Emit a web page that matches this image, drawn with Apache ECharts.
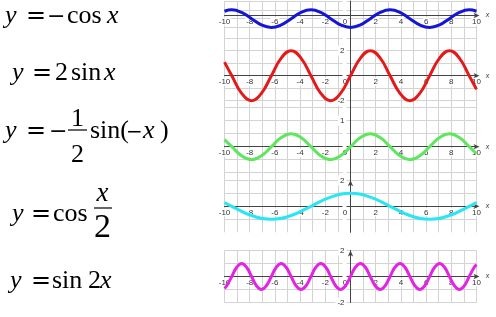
<!DOCTYPE html>
<html>
<head>
<meta charset="utf-8">
<script src="https://cdn.jsdelivr.net/npm/echarts@6/dist/echarts.min.js"></script>
<style>html,body{margin:0;padding:0;background:#fff}#c{width:496px;height:317px}</style>
</head>
<body>
<div id="c"></div>
<script>
// ---- data ----
const xTickLabels = [-10, -8, -6, -4, -2, 0, 2, 4, 6, 8, 10];
const blueYLabels = [];
const redYLabels = [2, -2];
const greenYLabels = [1];
const cyanYLabels = [2];
const magentaYLabels = [2, -2];

// y = -cos x
const bluePts = [[-10,0.84],[-9.42,1],[-8.64,0.71],[-7.85,0],[-7.07,-0.71],[-6.28,-1],[-5.50,-0.71],[-4.71,0],[-3.93,0.71],[-3.14,1],[-2.36,0.71],[-1.57,0],[-0.79,-0.71],[0,-1],[0.79,-0.71],[1.57,0],[2.36,0.71],[3.14,1],[3.93,0.71],[4.71,0],[5.50,-0.71],[6.28,-1],[7.07,-0.71],[7.85,0],[8.64,0.71],[9.42,1],[10,0.84]];
// y = 2 sin x
const redPts = [[-10,1.09],[-9.42,0],[-8.64,-1.41],[-7.85,-2],[-7.07,-1.41],[-6.28,0],[-5.50,1.41],[-4.71,2],[-3.93,1.41],[-3.14,0],[-2.36,-1.41],[-1.57,-2],[-0.79,-1.41],[0,0],[0.79,1.41],[1.57,2],[2.36,1.41],[3.14,0],[3.93,-1.41],[4.71,-2],[5.50,-1.41],[6.28,0],[7.07,1.41],[7.85,2],[8.64,1.41],[9.42,0],[10,-1.09]];
// y = -1/2 sin(-x)
const greenPts = [[-10,0.27],[-9.42,0],[-8.64,-0.35],[-7.85,-0.5],[-7.07,-0.35],[-6.28,0],[-5.50,0.35],[-4.71,0.5],[-3.93,0.35],[-3.14,0],[-2.36,-0.35],[-1.57,-0.5],[-0.79,-0.35],[0,0],[0.79,0.35],[1.57,0.5],[2.36,0.35],[3.14,0],[3.93,-0.35],[4.71,-0.5],[5.50,-0.35],[6.28,0],[7.07,0.35],[7.85,0.5],[8.64,0.35],[9.42,0],[10,-0.27]];
// y = cos x/2
const cyanPts = [[-10,0.28],[-9.42,0],[-7.85,-0.71],[-6.28,-1],[-4.71,-0.71],[-3.14,0],[-1.57,0.71],[0,1],[1.57,0.71],[3.14,0],[4.71,-0.71],[6.28,-1],[7.85,-0.71],[9.42,0],[10,0.28]];
// y = sin 2x
const magentaPts = [[-10,-0.91],[-9.82,-0.71],[-9.42,0],[-9.03,0.71],[-8.64,1],[-8.25,0.71],[-7.85,0],[-7.46,-0.71],[-7.07,-1],[-6.68,-0.71],[-6.28,0],[-5.89,0.71],[-5.50,1],[-5.11,0.71],[-4.71,0],[-4.32,-0.71],[-3.93,-1],[-3.53,-0.71],[-3.14,0],[-2.75,0.71],[-2.36,1],[-1.96,0.71],[-1.57,0],[-1.18,-0.71],[-0.79,-1],[-0.39,-0.71],[0,0],[0.39,0.71],[0.79,1],[1.18,0.71],[1.57,0],[1.96,-0.71],[2.36,-1],[2.75,-0.71],[3.14,0],[3.53,0.71],[3.93,1],[4.32,0.71],[4.71,0],[5.11,-0.71],[5.50,-1],[5.89,-0.71],[6.28,0],[6.68,0.71],[7.07,1],[7.46,0.71],[7.85,0],[8.25,-0.71],[8.64,-1],[9.03,-0.71],[9.42,0],[9.82,0.71],[10,0.91]];

// ---- layout / style ----
const GRID_LEFT = 224.5, GRID_W = 252;
const panels = [
  {top:-8.5, height:36, min:-1, max:2, interval:1, data:bluePts, color:'#1515d4', yLabels:blueYLabels, showMax:true, showMin:true, arrowY:false},
  {top:25.7, height:87.5, min:-3, max:4, interval:1, data:redPts, color:'#e41a1a', yLabels:redYLabels, showMax:false, showMin:false, arrowY:false},
  {top:107.7, height:78, min:-1.5, max:1.5, interval:0.5, data:greenPts, color:'#5fe65f', yLabels:greenYLabels, showMax:true, showMin:false, arrowY:false},
  {top:180.3, height:52, min:-2, max:2, interval:1, data:cyanPts, color:'#2ae6f2', yLabels:cyanYLabels, showMax:true, showMin:false, arrowY:true},
  {top:250.5, height:52, min:-2, max:2, interval:1, data:magentaPts, color:'#e324e3', yLabels:magentaYLabels, showMax:true, showMin:true, arrowY:true}
];
const gridColor = '#d3d3d3';
const axisColor = '#444';
const labelFont = '"Liberation Sans", Arial, sans-serif';

const grids = [], xAxes = [], yAxes = [], series = [];
panels.forEach((p, i) => {
  grids.push({left:GRID_LEFT, width:GRID_W, top:p.top, height:p.height});
  // move axes (line + labels) onto the origin through offsets
  const xOffset = -p.height * (0 - p.min) / (p.max - p.min);
  const yOffset = -GRID_W * 10 / 20;
  xAxes.push({
    gridIndex:i, type:'value', min:-10, max:10, interval:1, position:'bottom', offset:xOffset,
    axisLine:{onZero:false, lineStyle:{color:axisColor, width:1}, symbol:['none','arrow'], symbolSize:[4,6], symbolOffset:[0,3]},
    axisTick:{show:false},
    axisLabel:{
      fontSize:8, color:'#333', fontFamily:labelFont, margin:2,
      formatter: v => xTickLabels.includes(v) ? (v === 0 ? '{n|0}{s|}' : '{n|' + v + '}') : '',
      rich:{n:{fontSize:8, color:'#333', fontFamily:labelFont, backgroundColor:'#fff', padding:[0,1]}, s:{width:11}}
    },
    splitLine:{show:true, lineStyle:{color:gridColor, width:1}},
    name:'x', nameGap:-3,
    nameTextStyle:{fontSize:7, fontStyle:'italic', color:'#333', fontFamily:labelFont, padding:[0,0,11,0]}
  });
  yAxes.push({
    gridIndex:i, type:'value', min:p.min, max:p.max, interval:p.interval, position:'left', offset:yOffset,
    axisLine:{onZero:false, lineStyle:{color:axisColor, width:1}, symbol: p.arrowY ? ['none','arrow'] : ['none','none'], symbolSize:[4,6]},
    axisTick:{show:false},
    axisLabel:{
      fontSize:8, color:'#333', fontFamily:labelFont, margin:4, backgroundColor:'#fff', padding:[1,2],
      formatter: v => p.yLabels.includes(v) ? String(v) : ''
    },
    splitLine:{show:true, showMaxLine:p.showMax, showMinLine:p.showMin, lineStyle:{color:gridColor, width:1}}
  });
  series.push({
    type:'line', xAxisIndex:i, yAxisIndex:i, data:p.data, smooth:0.45,
    showSymbol:false, symbol:'none', silent:true, animation:false,
    lineStyle:{color:p.color, width:3}
  });
});

// ---- equations (text) ----
const serif = '"Liberation Serif", "Times New Roman", serif';
const sym = '"DejaVu Serif", serif';
const elems = [];
function piece(text, x, base, opt) {
  opt = opt || {};
  const size = opt.size || 26;
  const fam = opt.sym ? sym : serif;
  const font = (opt.italic ? 'italic ' : '') + size + 'px ' + fam;
  const mid = opt.sym ? 0.346 : 0.3375;
  elems.push({
    type:'text', x:x, y:base - mid * size, silent:true,
    style:{text:text, x:0, y:0, font:font, fill:'#000',
      align:opt.align || 'left', verticalAlign:'middle',
      textAlign:opt.align || 'left', textVerticalAlign:'middle'}
  });
}
function bar(x1, x2, y) {
  elems.push({type:'rect', silent:true, shape:{x:x1, y:y - 0.6, width:x2 - x1, height:1.2}, style:{fill:'#000'}});
}
// y = −cos x
piece('y', 5, 25, {italic:true}); piece('=', 26, 25, {sym:true, size:24}); piece('\u2212', 47, 25, {sym:true, size:22});
piece('cos', 67, 25); piece('x', 107, 25, {italic:true});
// y = 2 sin x
piece('y', 12, 82, {italic:true}); piece('=', 32, 82, {sym:true, size:24}); piece('2', 55, 82);
piece('sin', 71, 82); piece('x', 104, 82, {italic:true});
// y = −(1/2) sin(−x)
piece('y', 5, 140, {italic:true}); piece('=', 26, 140, {sym:true, size:24}); piece('\u2212', 49, 140, {sym:true, size:22});
piece('1', 77.5, 128, {align:'center'}); bar(68, 87, 130); piece('2', 77.5, 164, {align:'center'});
piece('sin(', 90, 140); piece('\u2212', 126, 140, {sym:true, size:20}); piece('x', 143, 140, {italic:true}); piece(')', 160, 140);
// y = cos x/2
piece('y', 12, 223, {italic:true}); piece('=', 31, 223, {sym:true, size:24}); piece('cos', 53, 223);
piece('x', 102.5, 203, {italic:true, size:27, align:'center'}); bar(94, 112, 208); piece('2', 102.5, 240, {size:34, align:'center'});
// y = sin 2x
piece('y', 10, 290, {italic:true}); piece('=', 31, 290, {sym:true, size:24}); piece('sin', 52, 290);
piece('2', 88, 290); piece('x', 100, 290, {italic:true});

const chart = echarts.init(document.getElementById('c'), null, {renderer:'canvas'});
chart.setOption({
  backgroundColor:'#fff',
  animation:false,
  grid:grids, xAxis:xAxes, yAxis:yAxes, series:series,
  graphic:{elements:elems}
});
</script>
</body>
</html>
